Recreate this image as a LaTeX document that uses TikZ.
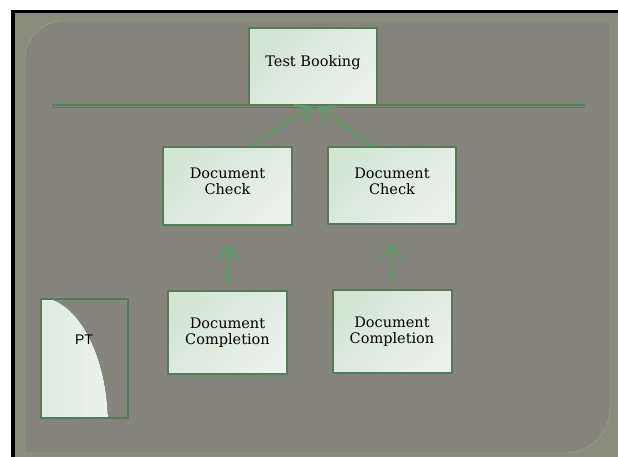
\documentclass[tikz,border=0pt]{standalone}
\usepackage{fontspec}
\setmainfont{DejaVu Serif}
\newfontfamily\ptfont{Liberation Sans}
\usetikzlibrary{positioning, arrows.meta}
\definecolor{slidebg}{HTML}{8A8C7B}
\definecolor{panelbg}{HTML}{85857B}
\definecolor{panelline}{HTML}{A3A592}
\definecolor{boxline}{HTML}{547B56}
\definecolor{boxtop}{HTML}{D2E5D3}
\definecolor{boxbot}{HTML}{EAF2EA}
\definecolor{arrowgreen}{HTML}{619B6A}
\definecolor{rulegray}{HTML}{6E7066}

\begin{document}
\begin{tikzpicture}[
    x=1pt, y=-1pt,
    box/.style={draw=boxline, line width=2pt, rectangle, top color=boxtop, bottom color=boxbot, shading angle=45, align=center, inner sep=0pt, font=\fontsize{14.5}{16}\selectfont},
    arrow/.style={-{Straight Barb[length=13pt, width=21pt]}, line width=2.6pt, draw=arrowgreen}
  ]

  % Slide background
  \useasboundingbox[fill=white] (0,0) rectangle (618,457);
  \fill[black] (11,10) rectangle (618,457);
  \fill[slidebg] (15,13) rectangle (618,457);
  \draw[panelline, fill=panelbg] (25,453) -- (25,59) arc[start angle=180, end angle=270, radius=38] -- (610,21) -- (610,408) arc[start angle=0, end angle=90, radius=45] -- cycle;
  \draw[rulegray, line width=1pt] (52,107.5) -- (585,107.5);
  \draw[boxline!80!arrowgreen, line width=2pt] (52,105.5) -- (585,105.5);

  % Define the blocks
  \node[box, minimum width=128pt, minimum height=77pt, text depth=11pt] (book) at (313,66.5) {Test Booking};
  \node[box, minimum width=129pt, minimum height=78pt, text depth=9pt] (chkL) at (227.5,186) {Document\\Check};
  \node[box, minimum width=128pt, minimum height=77pt, text depth=9pt] (chkR) at (392,185.5) {Document\\Check};
  \node[box, minimum width=119pt, minimum height=83pt, below=64pt of chkL] (cmpL) {Document\\Completion};
  \node[box, minimum width=119pt, minimum height=83pt, below=64pt of chkR] (cmpR) {Document\\Completion};

  % PT block
  \begin{scope}
    \clip (41,299) rectangle (128,418);
    \fill[left color=boxtop, right color=boxbot] (38,425) ellipse [x radius=70, y radius=128];
  \end{scope}
  \node[draw=boxline, line width=2pt, minimum width=87pt, minimum height=119pt, inner sep=0pt] (pt) at (84.5,358.5) {};
  \node[font=\ptfont\fontsize{14}{16}\selectfont] (ptlabel) at (84,340) {PT};

  % Draw the connecting arrows
  \draw[arrow] ([xshift=22.5pt]chkL.north) -- ([xshift=-1pt]book.south);
  \draw[arrow] ([xshift=-20pt]chkR.north) -- ([xshift=5pt]book.south);
  \draw[arrow, shorten <=6pt, shorten >=18pt] (cmpL.north) -- (cmpL.north |- chkL.south);
  \draw[arrow, shorten <=6pt, shorten >=18pt] (cmpR.north) -- (cmpR.north |- chkR.south);

\end{tikzpicture}
\end{document}
